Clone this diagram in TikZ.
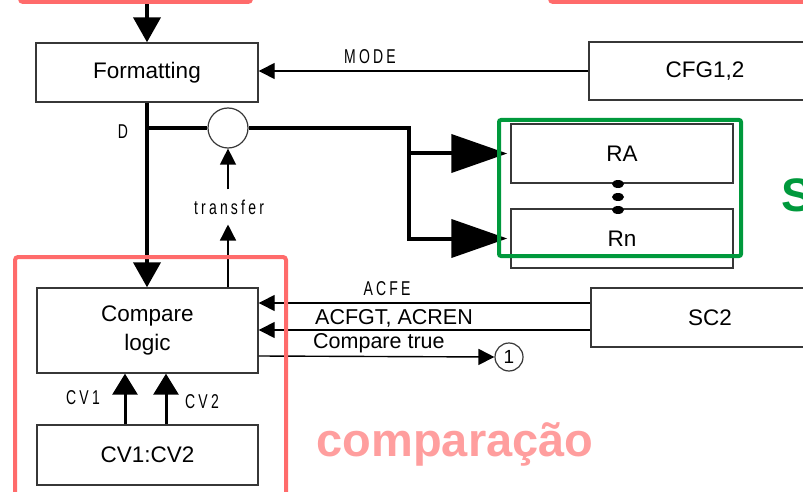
\documentclass[tikz,border=0pt]{standalone}
\usepackage{fontspec}
\setmainfont{Liberation Sans}
\newfontfamily\spc[FakeStretch=0.7,LetterSpace=16]{Liberation Sans}
\usetikzlibrary{arrows.meta}
\definecolor{redbox}{RGB}{255,107,107}
\definecolor{greenbox}{RGB}{0,153,60}
\definecolor{pinktxt}{RGB}{255,158,158}
\definecolor{boxline}{RGB}{55,55,55}
\begin{document}
\begin{tikzpicture}[x=1pt,y=-1pt,
  blk/.style={draw=boxline, line width=1.4pt, inner sep=0pt, font=\fontsize{22.5}{29}\selectfont, align=center},
  lbl/.style={font=\spc\fontsize{20}{22}\selectfont, inner sep=0pt},
  sig/.style={font=\fontsize{21.5}{24}\selectfont, inner sep=0pt, anchor=west},
  thinl/.style={line width=1.4pt},
  thk/.style={line width=4pt},
  bigtip/.style={-{Triangle[length=25pt,width=27pt]}},
  hugetip/.style={-{Triangle[length=56pt,width=38pt]}},
  medtip/.style={-{Triangle[length=21pt,width=25pt]}},
  smalltip/.style={-{Triangle[length=16pt,width=16pt]}}
]
\useasboundingbox (0,0) rectangle (803,492);

% boxes
\node[blk, minimum width=222pt, minimum height=59pt] (fmt) at (147,72.5) {Formatting};
\node[blk, minimum width=232pt, minimum height=58pt] (cfg) at (705,71) {CFG1,2};
\node[blk, minimum width=222pt, minimum height=59pt] (ra) at (622,153.5) {RA};
\node[blk, minimum width=222pt, minimum height=59pt] (rn) at (622,238.5) {Rn};
\node[blk, minimum width=221pt, minimum height=85pt] (cmp) at (147.5,330.5) {Compare\\logic};
\node[blk, minimum width=221pt, minimum height=60pt] (cv) at (147.5,455) {CV1:CV2};
\node[blk, minimum width=238pt, minimum height=59pt] (sc) at (710,317.5) {SC2};
\node[draw=boxline, line width=1.2pt, circle, minimum size=40pt, inner sep=0pt] (sw) at (228,128) {};
\node[draw=boxline, line width=1.2pt, circle, minimum size=28pt, inner sep=0pt, font=\fontsize{19}{19}\selectfont] (one) at (509,357) {1};

% dots
\fill (618,184) ellipse (6pt and 4pt);
\fill (618,197) ellipse (6pt and 4pt);
\fill (618,210) ellipse (6pt and 4pt);

% top input
\coordinate (topin) at (147,-5);
\draw[thk, bigtip] (topin) -- (fmt.north);

% MODE
\draw[thinl, smalltip] (cfg.west) -- (cfg.west -| fmt.east);
\node[lbl] (mode) at (370,57) {MODE};

% D
\draw[thk, bigtip] (fmt.south) -- (fmt.south |- cmp.north);
\node[lbl] (dl) at (123,132) {D};
\draw[thk] (fmt.south |- sw.west) -- (sw.west);

% to registers
\coordinate (busx) at (409,200);
\draw[thk, hugetip, shorten >=3pt] (sw.east) -| (busx |- rn.west) -- (rn.west);
\draw[thk, hugetip, shorten >=3pt] (busx |- ra.west) -- (ra.west);

% transfer
\node[lbl, inner ysep=10pt] (tr) at (229,207) {transfer};
\draw[thinl, smalltip] (cmp.north -| sw.south) -- (tr.south -| sw.south);
\draw[thinl, smalltip] (tr.north -| sw.south) -- (sw.south);

% SC2 signals
\draw[thinl, smalltip] ([yshift=14.5pt]sc.west) -- ([yshift=14.5pt]sc.west -| cmp.east);
\draw[thinl, smalltip] ([yshift=-12.5pt]sc.west) -- ([yshift=-12.5pt]sc.west -| cmp.east);
\node[lbl] (acfe) at (387,289) {ACFE};
\node[sig] (acfgt) at (315,318) {ACFGT, ACREN};
\node[sig] (ctrue) at (313,343) {Compare true};
\draw[thinl, smalltip] ([yshift=-25.5pt]cmp.east) -- (one.west);

% CV arrows
\draw[line width=3pt, medtip] ([xshift=-22.5pt]cv.north) -- ([xshift=-22.5pt]cmp.south);
\draw[line width=3pt, medtip] ([xshift=18.5pt]cv.north) -- ([xshift=18.5pt]cmp.south);
\node[lbl] (cv1) at (83,398) {CV1};
\node[lbl] (cv2) at (202,402) {CV2};

% highlight frames
\draw[redbox, line width=4pt, rounded corners=3pt] (20,-40) rectangle (251,2);
\draw[redbox, line width=4pt, rounded corners=3pt] (550,-40) rectangle (840,2);
\draw[redbox, line width=4pt, rounded corners=3pt] (15,257) rectangle (286,530);
\draw[greenbox, line width=4pt, rounded corners=2pt] (499,120) rectangle (741,256);

\node[font=\bfseries\fontsize{47}{50}\selectfont, text=pinktxt, inner sep=0pt] (cmpt) at (455,444) {comparação};
\node[font=\bfseries\fontsize{47}{50}\selectfont, text=greenbox, inner sep=0pt, anchor=west] (sg) at (781,195) {S};
\end{tikzpicture}
\end{document}
